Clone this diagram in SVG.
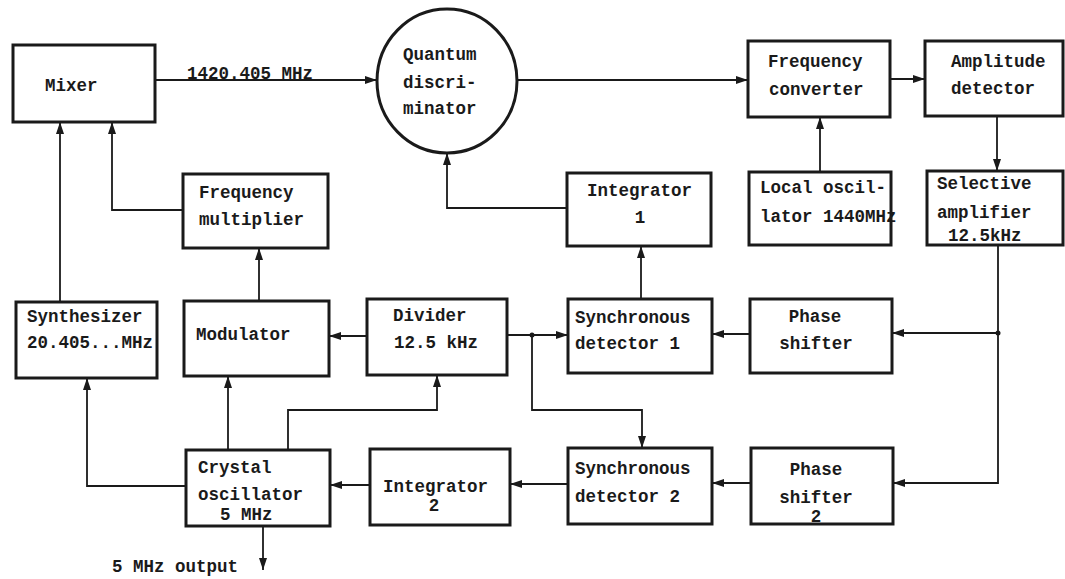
<svg xmlns="http://www.w3.org/2000/svg" width="1065" height="579" viewBox="0 0 1065 579">
<style>
.box{fill:none;stroke:#1a1a1a;stroke-width:3}
.t{font-family:"Liberation Mono","DejaVu Sans Mono",monospace;font-weight:bold;font-size:17.5px;fill:#1a1a1a}
.m{text-anchor:middle}
.c{fill:none;stroke:#1a1a1a;stroke-width:1.8;marker-end:url(#ah)}
.n{fill:none;stroke:#1a1a1a;stroke-width:1.8}
</style>
<defs>
<marker id="ah" viewBox="0 0 12 8" refX="12" refY="4" markerWidth="12" markerHeight="8" markerUnits="userSpaceOnUse" orient="auto">
<path d="M0,0 L12,4 L0,8 Z" fill="#1a1a1a"/>
</marker>
</defs>
<rect width="1065" height="579" fill="#ffffff"/>

<g id="connectors">
<path class="c" d="M155,80 H377"/>
<path class="c" d="M517,80 H748"/>
<path class="c" d="M890,79 H925"/>
<path class="c" d="M997,116 V171"/>
<path class="c" d="M820,172 V117"/>
<path class="c" d="M567,208 H447 V153"/>
<path class="c" d="M641,299 V246"/>
<path class="c" d="M183,210 H112 V122"/>
<path class="c" d="M60,302 V122"/>
<path class="c" d="M259,301 V248"/>
<path class="c" d="M367,336 H329"/>
<path class="c" d="M507,335 H568"/>
<path class="c" d="M532,335 V410 H642 V448"/>
<path class="c" d="M998,245 V483 H893"/>
<path class="c" d="M998,333 H892"/>
<path class="c" d="M750,334 H712"/>
<path class="c" d="M751,483 H712"/>
<path class="c" d="M568,484 H510"/>
<path class="c" d="M370,485 H330"/>
<path class="c" d="M186,486 H87 V378"/>
<path class="c" d="M228,450 V376"/>
<path class="c" d="M288,450 V410 H437 V375"/>
<path class="c" d="M263,526 V570"/>
<circle cx="532" cy="335" r="2.5" fill="#1a1a1a"/>
<circle cx="998" cy="333" r="2.5" fill="#1a1a1a"/>
<text class="t" x="187" y="79">1420.405 MHz</text>
<text class="t" x="112" y="572">5 MHz output</text>
</g>

<g id="mixer"><rect class="box" x="13" y="45" width="142" height="77"/><text class="t" x="45" y="91">Mixer</text></g>
<g id="quantum-discriminator"><ellipse class="box" cx="447" cy="81" rx="70" ry="72"/>
<text class="t" x="403" y="60">Quantum</text><text class="t" x="403" y="88">discri-</text><text class="t" x="403" y="114">minator</text></g>
<g id="frequency-converter"><rect class="box" x="748" y="41" width="142" height="76"/>
<text class="t" x="768" y="67">Frequency</text><text class="t" x="769" y="95">converter</text></g>
<g id="amplitude-detector"><rect class="box" x="925" y="41" width="138" height="75"/>
<text class="t" x="951" y="67">Amplitude</text><text class="t" x="951" y="94">detector</text></g>
<g id="frequency-multiplier"><rect class="box" x="183" y="174" width="145" height="74"/>
<text class="t" x="199" y="198">Frequency</text><text class="t" x="199" y="225">multiplier</text></g>
<g id="integrator-1"><rect class="box" x="567" y="173" width="144" height="73"/>
<text class="t" x="587" y="196">Integrator</text><text class="t m" x="640" y="223">1</text></g>
<g id="local-oscillator"><rect class="box" x="749" y="172" width="142" height="73"/>
<text class="t" x="760" y="193">Local oscil-</text><text class="t" x="760" y="222">lator 1440MHz</text></g>
<g id="selective-amplifier"><rect class="box" x="927" y="171" width="136" height="74"/>
<text class="t" x="937" y="189">Selective</text><text class="t" x="937" y="218">amplifier</text><text class="t" x="948" y="241">12.5kHz</text></g>
<g id="synthesizer"><rect class="box" x="16" y="302" width="141" height="76"/>
<text class="t" x="27" y="322">Synthesizer</text><text class="t" x="27" y="348">20.405...MHz</text></g>
<g id="modulator"><rect class="box" x="184" y="301" width="145" height="75"/>
<text class="t" x="196" y="340">Modulator</text></g>
<g id="divider"><rect class="box" x="367" y="299" width="140" height="76"/>
<text class="t" x="393" y="321">Divider</text><text class="t" x="394" y="348">12.5 kHz</text></g>
<g id="synchronous-detector-1"><rect class="box" x="568" y="299" width="144" height="74"/>
<text class="t" x="575" y="323">Synchronous</text><text class="t" x="575" y="349">detector 1</text></g>
<g id="phase-shifter"><rect class="box" x="750" y="299" width="142" height="74"/>
<text class="t m" x="815" y="322">Phase</text><text class="t m" x="816" y="349">shifter</text></g>
<g id="crystal-oscillator"><rect class="box" x="186" y="450" width="144" height="76"/>
<text class="t" x="198" y="473">Crystal</text><text class="t" x="198" y="500">oscillator</text><text class="t" x="220" y="520">5 MHz</text></g>
<g id="integrator-2"><rect class="box" x="370" y="449" width="140" height="76"/>
<text class="t" x="383" y="492">Integrator</text><text class="t m" x="434" y="511">2</text></g>
<g id="synchronous-detector-2"><rect class="box" x="568" y="448" width="144" height="76"/>
<text class="t" x="575" y="474">Synchronous</text><text class="t" x="575" y="502">detector 2</text></g>
<g id="phase-shifter-2"><rect class="box" x="751" y="448" width="142" height="76"/>
<text class="t m" x="816" y="475">Phase</text><text class="t m" x="816" y="503">shifter</text><text class="t m" x="816" y="522">2</text></g>
</svg>
